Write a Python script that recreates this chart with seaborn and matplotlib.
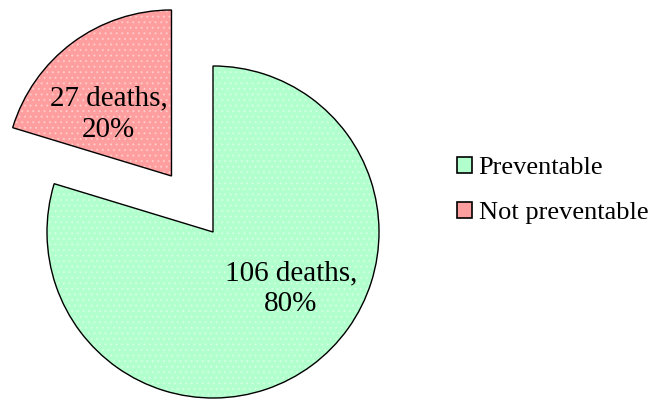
import matplotlib
matplotlib.use("Agg")
import matplotlib.pyplot as plt
import matplotlib.patches as mpatches
import seaborn as sns

# data
categories = ["Preventable", "Not preventable"]
deaths = [106, 27]
percents = [80, 20]
colors = ["#B0FFCC", "#FF9E9E"]
explode = [0, 0.42]

sns.set_theme(style="white")
plt.rcParams["font.family"] = ["Liberation Serif", "DejaVu Serif"]
plt.rcParams["hatch.linewidth"] = 0.8

fig = plt.figure(figsize=(6.57, 4.03), dpi=100)
ax = fig.add_axes([0, 0, 1, 1])

# base fill
wedges, _ = ax.pie(deaths, colors=colors, startangle=90, counterclock=False,
                   explode=explode, wedgeprops=dict(linewidth=0))
# faint dotted texture on top
ax.pie(deaths, colors=["none", "none"], startangle=90, counterclock=False,
       explode=explode,
       wedgeprops=dict(facecolor="none", edgecolor="white", linewidth=0,
                       hatch="...", alpha=0.35))
# outlines
ax.pie(deaths, colors=["none", "none"], startangle=90, counterclock=False,
       explode=explode,
       wedgeprops=dict(facecolor="none", edgecolor="black", linewidth=1.0))

label_pos = [(0.47, -0.34), (-0.63, 0.71)]
for (x, y), d, p in zip(label_pos, deaths, percents):
    ax.text(x, y, f"{d} deaths,\n{p}%", ha="center", va="center",
            fontsize=21, linespacing=1.25, color="black")

ax.set_xlim(-213 / 166, (657 - 213) / 166)
ax.set_ylim(-171 / 166, (403 - 171) / 166)
ax.set_aspect("auto")
ax.axis("off")

handles = [mpatches.Patch(facecolor=c, edgecolor="black", linewidth=1.2)
           for c in colors]
leg = fig.legend(handles, categories, loc="center left",
                 bbox_to_anchor=(0.695, 0.527), frameon=False, fontsize=19,
                 handlelength=0.58, handleheight=0.58, handletextpad=0.25,
                 labelspacing=0.85, borderaxespad=0, borderpad=0,
                 labelcolor="black")

fig.savefig("out.png", dpi=100, facecolor="white")
